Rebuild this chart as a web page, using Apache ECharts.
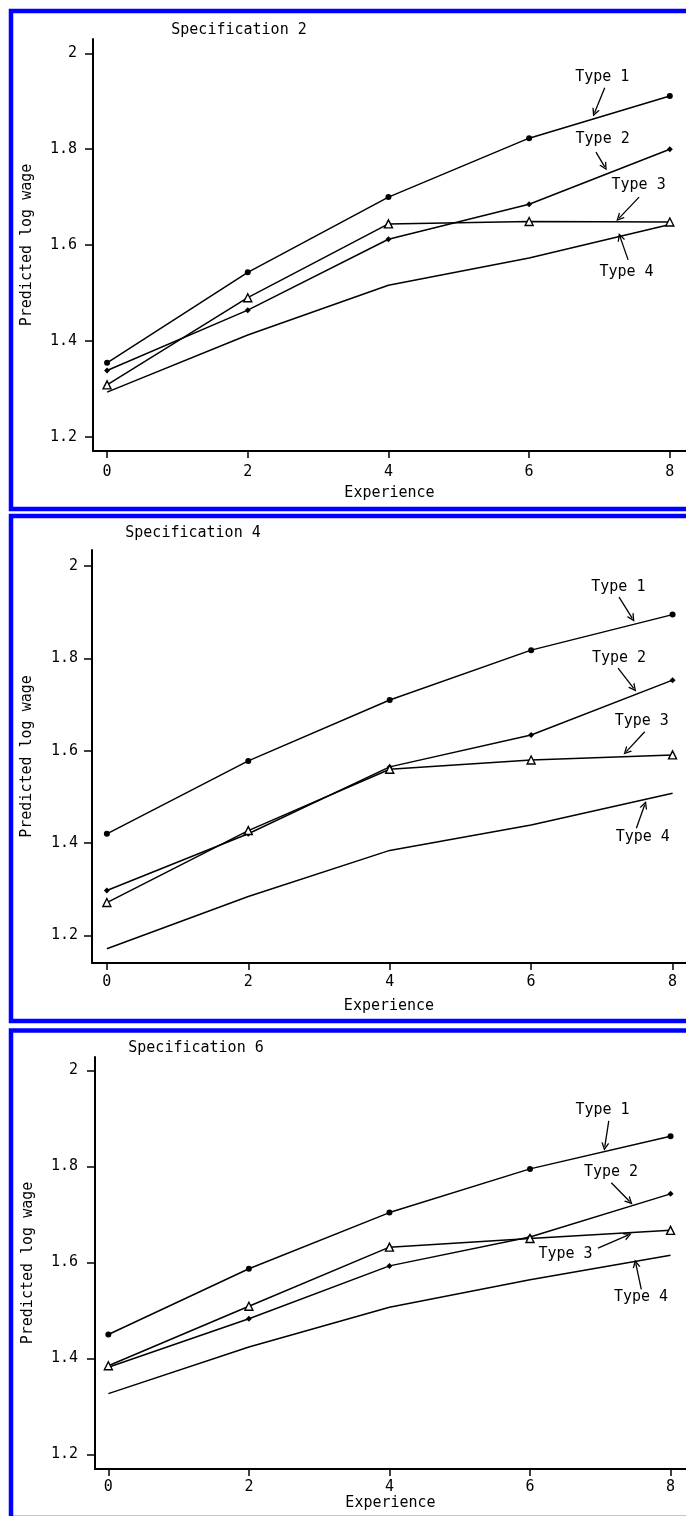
<!DOCTYPE html>
<html>
<head>
<meta charset="utf-8">
<script src="https://cdn.jsdelivr.net/npm/echarts@6/dist/echarts.min.js"></script>
<style>
html,body{margin:0;padding:0;background:#fff;}
#chart{width:686px;height:1516px;}
</style>
</head>
<body>
<div id="chart"></div>
<script>
// ---------------- data ----------------
const experience = [0, 2, 4, 6, 8];
const xTicks = [0, 2, 4, 6, 8];
const yTicks = [1.2, 1.4, 1.6, 1.8, 2];
const panelTitles = ['Specification 2', 'Specification 4', 'Specification 6'];
const typeNames = ['Type 1', 'Type 2', 'Type 3', 'Type 4'];

const spec2_type1 = [1.354, 1.543, 1.700, 1.823, 1.911];
const spec2_type2 = [1.338, 1.464, 1.612, 1.685, 1.800];
const spec2_type3 = [1.308, 1.490, 1.644, 1.649, 1.648];
const spec2_type4 = [1.293, 1.412, 1.516, 1.573, 1.643];

const spec4_type1 = [1.420, 1.578, 1.710, 1.818, 1.895];
const spec4_type2 = [1.297, 1.420, 1.565, 1.634, 1.753];
const spec4_type3 = [1.271, 1.427, 1.560, 1.580, 1.591];
const spec4_type4 = [1.171, 1.284, 1.384, 1.439, 1.508];

const spec6_type1 = [1.450, 1.587, 1.704, 1.795, 1.863];
const spec6_type2 = [1.382, 1.483, 1.593, 1.653, 1.743];
const spec6_type3 = [1.385, 1.509, 1.632, 1.650, 1.667];
const spec6_type4 = [1.327, 1.424, 1.507, 1.564, 1.615];

// annotation label anchors (data coords) [x, y] for Type 1..4
const spec2_labelPos = [[7.04, 1.951], [7.045, 1.821], [7.556, 1.725], [7.385, 1.544]];
const spec4_labelPos = [[7.233, 1.954], [7.243, 1.800], [7.565, 1.665], [7.578, 1.412]];
const spec6_labelPos = [[7.032, 1.918], [7.153, 1.788], [6.506, 1.618], [7.58, 1.527]];
// annotation arrows (data coords) [[x1,y1],[x2,y2]], head at second point
const spec2_arrows = [[[7.075, 1.928], [6.93, 1.876]], [[6.95, 1.794], [7.075, 1.763]], [[7.563, 1.700], [7.279, 1.656]], [[7.407, 1.569], [7.293, 1.617]]];
const spec4_arrows = [[[7.243, 1.933], [7.431, 1.887]], [[7.229, 1.779], [7.451, 1.735]], [[7.606, 1.641], [7.346, 1.598]], [[7.488, 1.432], [7.606, 1.483]]];
const spec6_arrows = [[[7.121, 1.895], [7.064, 1.841]], [[7.157, 1.766], [7.419, 1.727]], [[6.968, 1.630], [7.395, 1.657]], [[7.584, 1.544], [7.505, 1.598]]];

const panelSeries = [
  [spec2_type1, spec2_type2, spec2_type3, spec2_type4],
  [spec4_type1, spec4_type2, spec4_type3, spec4_type4],
  [spec6_type1, spec6_type2, spec6_type3, spec6_type4]
];
const panelLabelPos = [spec2_labelPos, spec4_labelPos, spec6_labelPos];
const panelArrows = [spec2_arrows, spec4_arrows, spec6_arrows];

// ---------------- layout ----------------
const FONT = 'DejaVu Sans Mono';
const layout = [
  {left: 93, top: 39, height: 412, xmin: -0.2, xmax: 8.23, ymin: 1.17, ymax: 2.03, xMargin: 14, yMargin: 16, xGap: 35, yGap: 58, titleX: 239, titleY: 30, box: [11, 11, 509]},
  {left: 92, top: 550, height: 413, xmin: -0.21, xmax: 8.19, ymin: 1.14, ymax: 2.035, xMargin: 12, yMargin: 14, xGap: 36, yGap: 57, titleX: 193, titleY: 533, box: [11, 516, 1021]},
  {left: 95, top: 1057, height: 412, xmin: -0.19, xmax: 8.22, ymin: 1.17, ymax: 2.028, xMargin: 11, yMargin: 17, xGap: 27, yGap: 59, titleX: 196, titleY: 1048, box: [11, 1030.5, 1518]}
];

const markerStyles = [
  {symbol: 'circle', symbolSize: 6, itemStyle: {color: '#000'}},
  {symbol: 'diamond', symbolSize: 6, itemStyle: {color: '#000'}},
  {symbol: 'triangle', symbolSize: 8, itemStyle: {color: '#fff', borderColor: '#000', borderWidth: 1.4}},
  {symbol: 'none', symbolSize: 0, itemStyle: {color: '#000'}}
];

const grid = [], xAxis = [], yAxis = [], series = [], graphic = [];
const textStyle = {fontFamily: FONT, fontSize: 15, color: '#000'};

layout.forEach((L, i) => {
  grid.push({left: L.left, top: L.top, height: L.height, right: 0});
  xAxis.push({
    type: 'value', gridIndex: i, min: L.xmin, max: L.xmax,
    axisLine: {show: true, onZero: false, lineStyle: {color: '#000', width: 2}},
    axisTick: {show: true, length: 7, customValues: xTicks, lineStyle: {color: '#000', width: 1.5}},
    axisLabel: {show: true, customValues: xTicks, margin: L.xMargin, formatter: v => String(v), ...textStyle},
    splitLine: {show: false},
    name: 'Experience', nameLocation: 'middle', nameGap: L.xGap, nameTextStyle: textStyle
  });
  yAxis.push({
    type: 'value', gridIndex: i, min: L.ymin, max: L.ymax,
    axisLine: {show: true, onZero: false, lineStyle: {color: '#000', width: 2}},
    axisTick: {show: true, length: 8, customValues: yTicks, lineStyle: {color: '#000', width: 1.5}},
    axisLabel: {show: true, customValues: yTicks, margin: L.yMargin, formatter: v => String(v), ...textStyle},
    splitLine: {show: false},
    name: 'Predicted log wage', nameLocation: 'middle', nameGap: L.yGap, nameTextStyle: textStyle
  });

  panelSeries[i].forEach((vals, k) => {
    const m = markerStyles[k];
    series.push({
      type: 'line', name: typeNames[k], xAxisIndex: i, yAxisIndex: i,
      data: experience.map((x, j) => [x, vals[j]]),
      symbol: m.symbol, symbolSize: m.symbolSize, showSymbol: m.symbol !== 'none',
      itemStyle: m.itemStyle, lineStyle: {color: '#000', width: 1.5},
      z: k === 2 ? 4 : 3, silent: true, animation: false
    });
  });

  series.push({
    type: 'lines', coordinateSystem: 'cartesian2d', xAxisIndex: i, yAxisIndex: i, silent: true,
    data: panelArrows[i].map(a => ({coords: a})),
    symbol: ['none', 'path://M5,0 L10,10 L8.2,10 L5,3.6 L1.8,10 L0,10 Z'], symbolSize: [7, 8],
    lineStyle: {color: '#000', width: 1.3, opacity: 1, curveness: 0},
    itemStyle: {color: '#000'},
    animation: false
  });

  graphic.push({
    type: 'text', x: L.titleX, y: L.titleY,
    style: {text: panelTitles[i], fill: '#000', font: '15px "' + FONT + '"', align: 'center', verticalAlign: 'middle'}
  });
  graphic.push({
    type: 'polyline', silent: true,
    shape: {points: [[720, L.box[1]], [L.box[0], L.box[1]], [L.box[0], L.box[2]], [720, L.box[2]]]},
    style: {stroke: '#0000ff', lineWidth: 4.5, fill: null}
  });
});

const chart = echarts.init(document.getElementById('chart'), null, {renderer: 'canvas'});
chart.setOption({
  backgroundColor: '#fff',
  animation: false,
  grid, xAxis, yAxis, series, graphic
});

// annotation texts, placed through the axes' own scales
const labelGraphics = [];
panelLabelPos.forEach((arr, i) => {
  arr.forEach((p, k) => {
    const px = chart.convertToPixel({gridIndex: i}, p);
    labelGraphics.push({
      type: 'text', x: px[0], y: px[1], silent: true, z: 10,
      style: {text: typeNames[k], fill: '#000', font: '15px "' + FONT + '"', align: 'center', verticalAlign: 'middle'}
    });
  });
});
chart.setOption({graphic: graphic.concat(labelGraphics)});
</script>
</body>
</html>
